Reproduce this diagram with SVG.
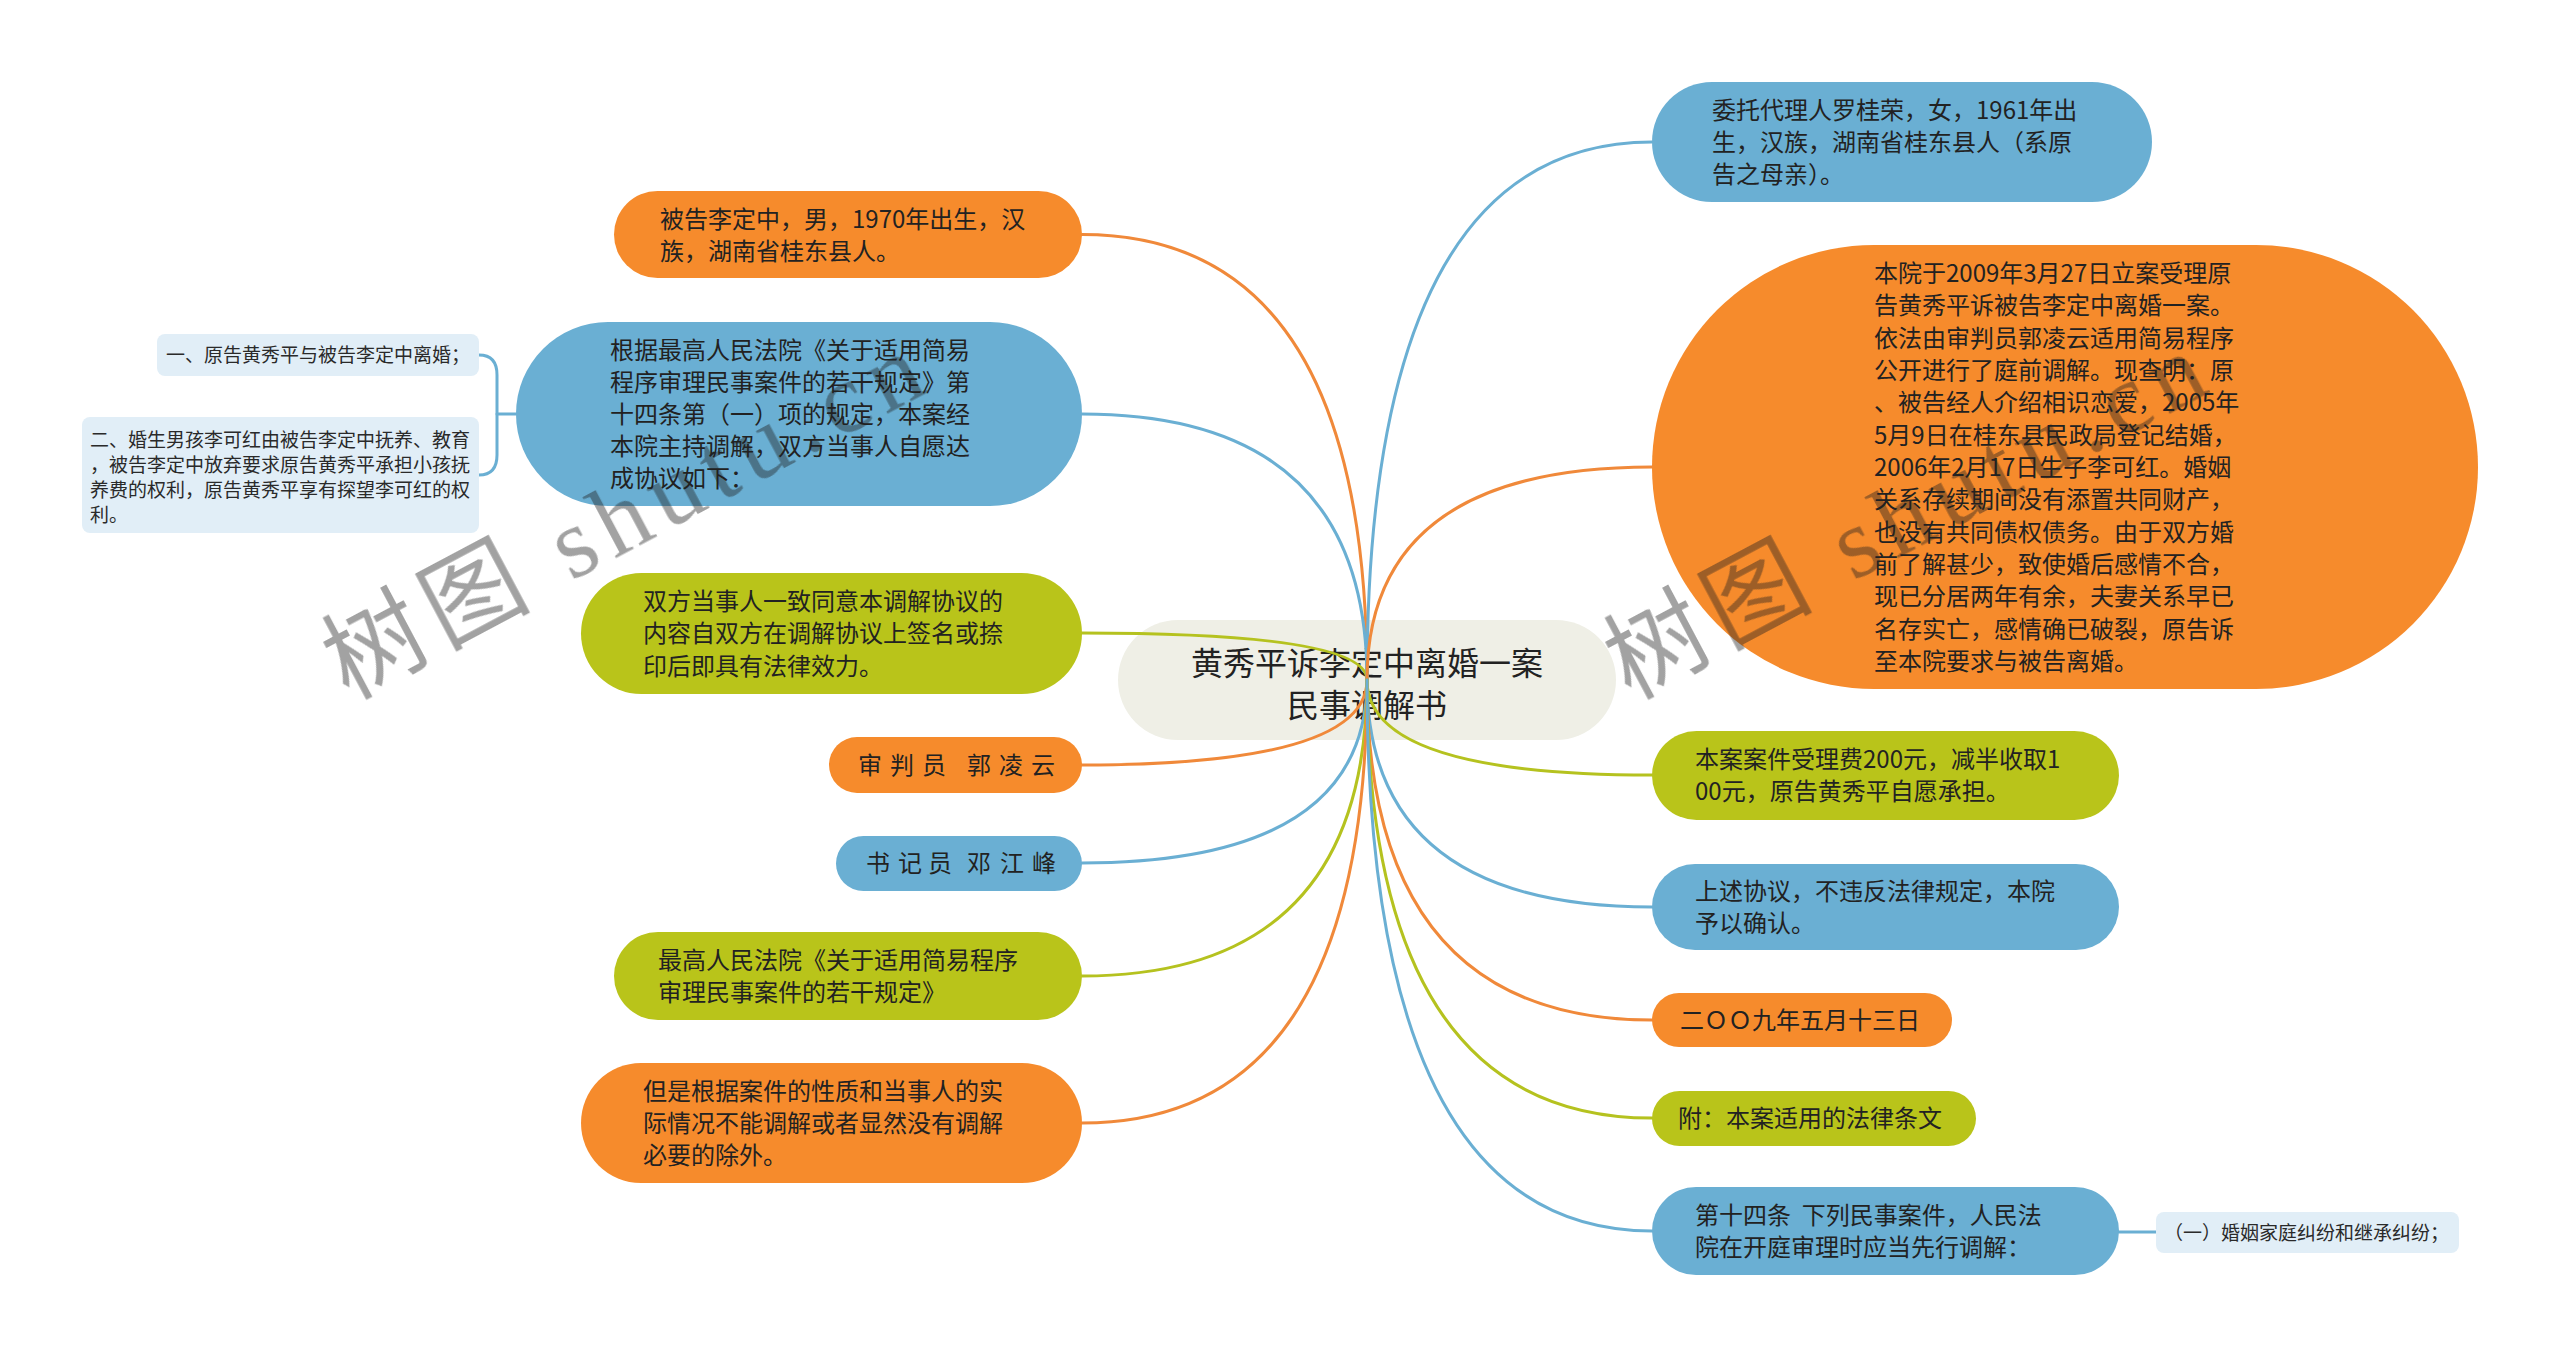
<svg xmlns="http://www.w3.org/2000/svg" width="2560" height="1359" viewBox="0 0 2560 1359">
<style>
text{font-family:"Noto Sans CJK SC","Noto Sans",sans-serif;fill:#222;}
.t{font-size:24px;}
.leaf{font-size:19px;fill:#2a2a2a;}
.or{fill:#f68b2c;}
.bl{fill:#6aafd3;}
.gr{fill:#b9c41a;}
.lf{fill:#e1eef7;}
.c{fill:none;stroke-width:3;stroke-linecap:round;}
.co{stroke:#f0893a;}
.cb{stroke:#6aafd3;}
.cg{stroke:#b5c21f;}
.wm{font-size:100px;fill:#999;opacity:0.42;letter-spacing:10px;}
</style>
<rect width="2560" height="1359" fill="#ffffff"/>

<g id="root">
<rect x="1118" y="620" width="498" height="120" rx="60" fill="#efefe6"/>
<text x="1367" y="675" font-size="32" text-anchor="middle">黄秀平诉李定中离婚一案</text>
<text x="1367" y="717" font-size="32" text-anchor="middle">民事调解书</text>
</g>

<g id="connectors">
<path class="c co" d="M1367 680 Q1367 234.5 1082 234.5"/>
<path class="c cb" d="M1367 680 Q1367 414 1082 414"/>
<path class="c cg" d="M1367 680 Q1367 633 1082 633"/>
<path class="c co" d="M1367 680 Q1367 765 1082 765"/>
<path class="c cb" d="M1367 680 Q1367 863 1082 863"/>
<path class="c cg" d="M1367 680 Q1367 976 1082 976"/>
<path class="c co" d="M1367 680 Q1367 1123 1082 1123"/>
<path class="c cb" d="M1367 680 Q1367 142 1652 142"/>
<path class="c co" d="M1367 680 Q1367 467 1652 467"/>
<path class="c cg" d="M1367 680 Q1367 775 1652 775"/>
<path class="c cb" d="M1367 680 Q1367 907 1652 907"/>
<path class="c co" d="M1367 680 Q1367 1020 1652 1020"/>
<path class="c cg" d="M1367 680 Q1367 1118 1652 1118"/>
<path class="c cb" d="M1367 680 Q1367 1231 1652 1231"/>
<path class="c cb" d="M479 355 Q497 355 497 375 L497 455 Q497 475 479 475"/>
<path class="c cb" d="M497 414 L516 414"/>
<path class="c cb" d="M2119 1232 L2156 1232"/>
</g>

<g id="n1">
<rect class="or" x="614" y="191" width="468" height="87" rx="43.5"/>
<text class="t" x="660" y="228">被告李定中，男，1970年出生，汉</text>
<text class="t" x="660" y="260">族，湖南省桂东县人。</text>
</g>

<g id="n2">
<rect class="bl" x="516" y="322" width="566" height="184" rx="92"/>
<text class="t" x="610" y="359">根据最高人民法院《关于适用简易</text>
<text class="t" x="610" y="391">程序审理民事案件的若干规定》第</text>
<text class="t" x="610" y="423">十四条第（一）项的规定，本案经</text>
<text class="t" x="610" y="455">本院主持调解，双方当事人自愿达</text>
<text class="t" x="610" y="487">成协议如下：</text>
</g>

<g id="n2a">
<rect class="lf" x="157" y="334" width="322" height="42" rx="8"/>
<text class="leaf" x="166" y="362">一、原告黄秀平与被告李定中离婚；</text>
</g>

<g id="n2b">
<rect class="lf" x="82" y="417" width="397" height="116" rx="8"/>
<text class="leaf" x="90" y="447">二、婚生男孩李可红由被告李定中抚养、教育</text>
<text class="leaf" x="90" y="472">，被告李定中放弃要求原告黄秀平承担小孩抚</text>
<text class="leaf" x="90" y="497">养费的权利，原告黄秀平享有探望李可红的权</text>
<text class="leaf" x="90" y="522">利。</text>
</g>

<g id="n3">
<rect class="gr" x="581" y="573" width="501" height="121" rx="60.5"/>
<text class="t" x="643" y="609.5">双方当事人一致同意本调解协议的</text>
<text class="t" x="643" y="642">内容自双方在调解协议上签名或捺</text>
<text class="t" x="643" y="674.5">印后即具有法律效力。</text>
</g>

<g id="n4">
<rect class="or" x="829" y="737" width="253" height="56" rx="28"/>
<text class="t" x="858 882 890 914 922 946 956 967 991 999 1023 1031" y="774" xml:space="preserve">审 判 员  郭 凌 云</text>
</g>

<g id="n5">
<rect class="bl" x="836" y="836" width="246" height="55" rx="27.5"/>
<text class="t" x="866 890 898 922 928 952 958 967 991 1000 1024 1032" y="872" xml:space="preserve">书 记 员  邓 江 峰</text>
</g>

<g id="n6">
<rect class="gr" x="614" y="932" width="468" height="88" rx="44"/>
<text class="t" x="658" y="969">最高人民法院《关于适用简易程序</text>
<text class="t" x="658" y="1001">审理民事案件的若干规定》</text>
</g>

<g id="n7">
<rect class="or" x="581" y="1063" width="501" height="120" rx="60"/>
<text class="t" x="643" y="1100">但是根据案件的性质和当事人的实</text>
<text class="t" x="643" y="1132">际情况不能调解或者显然没有调解</text>
<text class="t" x="643" y="1164">必要的除外。</text>
</g>

<g id="r1">
<rect class="bl" x="1652" y="82" width="500" height="120" rx="60"/>
<text class="t" x="1712" y="119">委托代理人罗桂荣，女，1961年出</text>
<text class="t" x="1712" y="151">生，汉族，湖南省桂东县人（系原</text>
<text class="t" x="1712" y="183">告之母亲）。</text>
</g>

<g id="r2">
<rect class="or" x="1652" y="245" width="826" height="444" rx="222"/>
<text class="t" x="1874" y="282">本院于2009年3月27日立案受理原</text>
<text class="t" x="1874" y="314">告黄秀平诉被告李定中离婚一案。</text>
<text class="t" x="1874" y="347">依法由审判员郭凌云适用简易程序</text>
<text class="t" x="1874" y="379">公开进行了庭前调解。现查明：原</text>
<text class="t" x="1874" y="411">、被告经人介绍相识恋爱，2005年</text>
<text class="t" x="1874" y="444">5月9日在桂东县民政局登记结婚，</text>
<text class="t" x="1874" y="476">2006年2月17日生子李可红。婚姻</text>
<text class="t" x="1874" y="508">关系存续期间没有添置共同财产，</text>
<text class="t" x="1874" y="541">也没有共同债权债务。由于双方婚</text>
<text class="t" x="1874" y="573">前了解甚少，致使婚后感情不合，</text>
<text class="t" x="1874" y="605">现已分居两年有余，夫妻关系早已</text>
<text class="t" x="1874" y="638">名存实亡，感情确已破裂，原告诉</text>
<text class="t" x="1874" y="670">至本院要求与被告离婚。</text>
</g>

<g id="r3">
<rect class="gr" x="1652" y="731" width="467" height="89" rx="44.5"/>
<text class="t" x="1695" y="768">本案案件受理费200元，减半收取1</text>
<text class="t" x="1695" y="800">00元，原告黄秀平自愿承担。</text>
</g>

<g id="r4">
<rect class="bl" x="1652" y="864" width="467" height="86" rx="43"/>
<text class="t" x="1695" y="900">上述协议，不违反法律规定，本院</text>
<text class="t" x="1695" y="932">予以确认。</text>
</g>

<g id="r5">
<rect class="or" x="1652" y="993" width="300" height="54" rx="27"/>
<text class="t" x="1680" y="1029">二ＯＯ九年五月十三日</text>
</g>

<g id="r6">
<rect class="gr" x="1652" y="1091" width="324" height="55" rx="27.5"/>
<text class="t" x="1678" y="1127">附：本案适用的法律条文</text>
</g>

<g id="r7">
<rect class="bl" x="1652" y="1187" width="467" height="88" rx="44"/>
<text class="t" x="1695" y="1224" xml:space="preserve">第十四条  下列民事案件，人民法</text>
<text class="t" x="1695" y="1256">院在开庭审理时应当先行调解：</text>
</g>

<g id="r7a">
<rect class="lf" x="2156" y="1212" width="303" height="41" rx="8"/>
<text class="leaf" x="2164" y="1240">（一）婚姻家庭纠纷和继承纠纷；</text>
</g>

<g id="watermark" class="wm">
<text transform="translate(348 700) rotate(-28)">树图 <tspan font-family="Liberation Serif">shutu.cn</tspan></text>
<text transform="translate(1630 700) rotate(-28)">树图 <tspan font-family="Liberation Serif">shutu.cn</tspan></text>
</g>
</svg>
